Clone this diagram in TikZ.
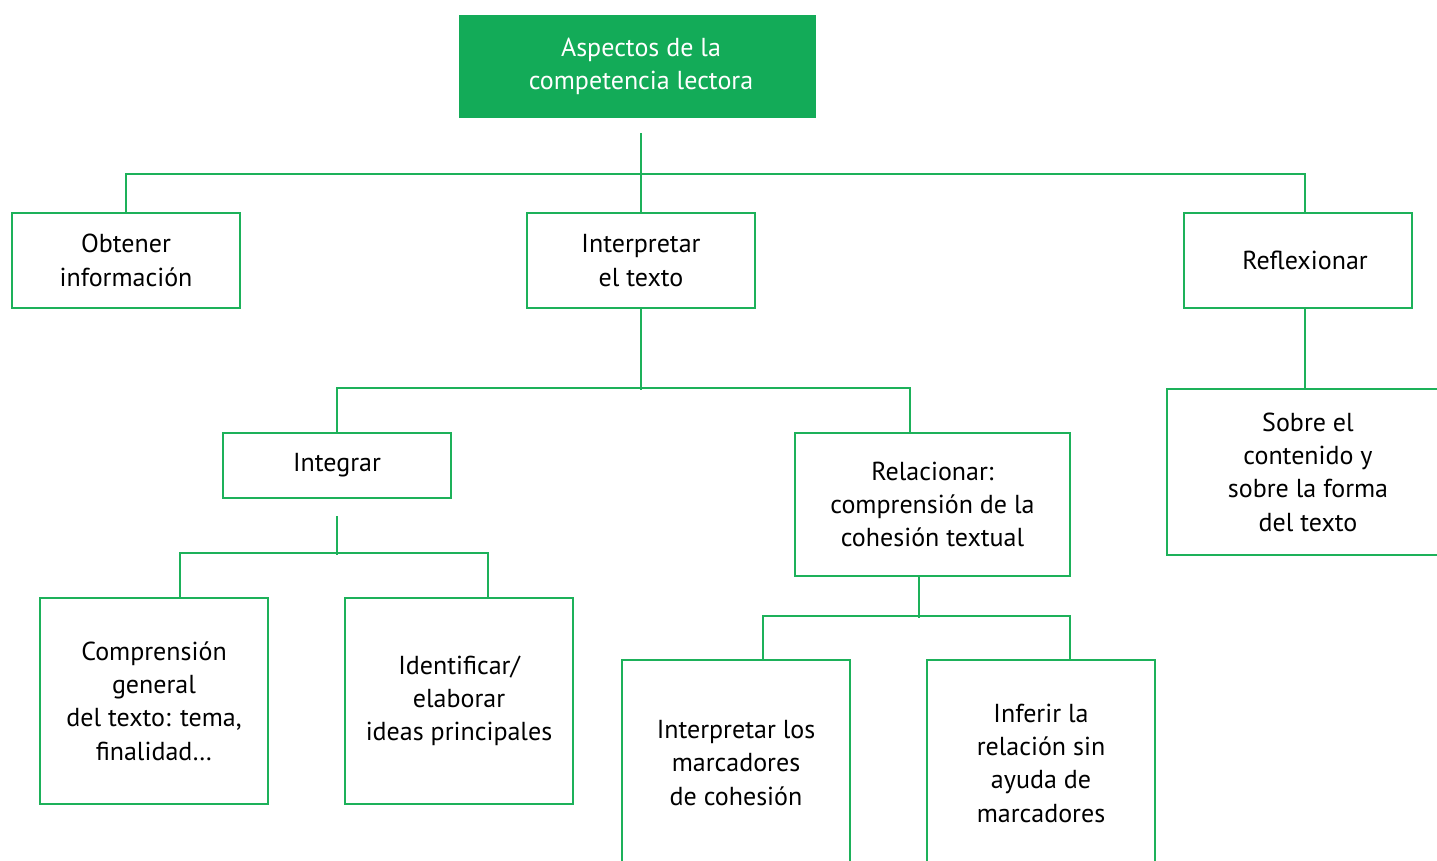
\documentclass[tikz,border=0pt]{standalone}
\usepackage{fontspec}
\setmainfont{PT Sans}
\definecolor{gfill}{RGB}{19,171,88}
\definecolor{gline}{RGB}{29,177,90}
\begin{document}
\begin{tikzpicture}[x=1pt,y=1pt,
  box/.style={draw=gline,line width=2.2pt,rectangle,inner sep=0pt,align=center,
    font=\fontsize{26}{33.3}\selectfont,text=black},
  topbox/.style={fill=gfill,rectangle,inner sep=0pt,align=center,
    font=\fontsize{26}{33.3}\selectfont,text=white},
  link/.style={draw=gline,line width=2.2pt}]
\clip (0,0) rectangle (1437,-860);
\fill[white] (0,0) rectangle (1437,-860);
% nodes (centre x, -centre y), size
\node[topbox,minimum width=357pt,minimum height=103pt] (top) at (637.5,-66.5) {\hspace*{7pt}Aspectos de la\\\hspace*{7pt}competencia lectora};
\node[box,minimum width=228pt,minimum height=95pt] (obt) at (126,-260.5) {Obtener\\información};
\node[box,minimum width=228pt,minimum height=95pt] (interp) at (641,-260.5) {Interpretar\\el texto};
\node[box,minimum width=228pt,minimum height=95pt] (refl) at (1298,-260.5) {\hspace*{14pt}Reflexionar};
\node[box,minimum width=228pt,minimum height=65pt] (integ) at (337,-465.5) {Integrar};
\node[box,minimum width=275pt,minimum height=143pt] (rel) at (932.5,-504.5) {Relacionar:\\comprensión de la\\cohesión textual};
\node[box,minimum width=282pt,minimum height=166pt] (sobre) at (1308,-472) {Sobre el\\contenido y\\sobre la forma\\del texto};
\node[box,minimum width=228pt,minimum height=206pt] (comp) at (154,-701) {Comprensión\\general\\del texto: tema,\\finalidad…};
\node[box,minimum width=228pt,minimum height=206pt] (ident) at (459,-701) {Identificar/\\elaborar\\ideas principales};
\node[box,minimum width=228pt,minimum height=206pt] (imarc) at (736,-763) {Interpretar los\\marcadores\\de cohesión};
\node[box,minimum width=228pt,minimum height=206pt] (infer) at (1041,-763) {Inferir la\\relación sin\\ayuda de\\marcadores};
% connectors
\coordinate (topstart) at ([yshift=-15pt]top.south -| interp.north);
\draw[link] (topstart) -- (interp.north);
\draw[link] (obt.north) -- ++(0,38) -| ([xshift=7pt]refl.north);
\draw[link] (interp.south) -- ++(0,-81) coordinate (ib);
\draw[link] (integ.north) -- ++(0,44) -| ([xshift=-22.5pt]rel.north);
\draw[link] ([xshift=7pt]refl.south) -- ([xshift=-3pt]sobre.north);
\coordinate (igstart) at ([yshift=-17pt]integ.south);
\draw[link] (igstart) -- ++(0,-39);
\draw[link] ([xshift=26pt]comp.north) -- ++(0,44) -| ([xshift=29pt]ident.north);
\draw[link] ([xshift=-13.5pt]rel.south) -- ++(0,-41);
\draw[link] ([xshift=27pt]imarc.north) -- ++(0,43) -| ([xshift=29pt]infer.north);
\end{tikzpicture}
\end{document}
